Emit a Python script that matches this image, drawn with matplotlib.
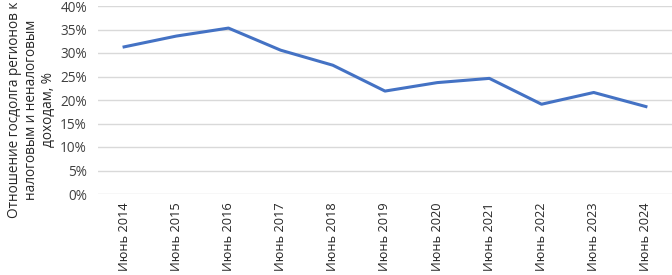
import matplotlib.pyplot as plt
from matplotlib.ticker import PercentFormatter

plt.rcParams['font.family'] = ['Open Sans', 'DejaVu Sans']

# data
years = ["Июнь 2014", "Июнь 2015", "Июнь 2016", "Июнь 2017", "Июнь 2018", "Июнь 2019",
         "Июнь 2020", "Июнь 2021", "Июнь 2022", "Июнь 2023", "Июнь 2024"]
debt_ratio = [31.3, 33.6, 35.3, 30.6, 27.4, 21.9, 23.7, 24.6, 19.1, 21.6, 18.6]
y_ticks = [0, 5, 10, 15, 20, 25, 30, 35, 40]

fig = plt.figure(figsize=(6.72, 2.75), dpi=100)
ax = fig.add_axes([98 / 672, 1 - 194 / 275, (672 - 98) / 672, (194 - 6) / 275])

x = list(range(len(years)))
ax.plot(x, debt_ratio, color="#4472C4", linewidth=2.2, solid_joinstyle="round", zorder=3)

ax.set_xlim(-0.5, len(years) - 0.5)
ax.set_ylim(0, 40)
ax.set_yticks(y_ticks)
ax.yaxis.set_major_formatter(PercentFormatter(decimals=0))
ax.set_xticks(x)
ax.set_xticklabels(years, rotation=90, fontsize=9.2, color="#262626")
ax.tick_params(axis="y", labelsize=9.8, colors="#404040", length=0, pad=8)
ax.tick_params(axis="x", length=0, pad=6)
ax.grid(axis="y", color="#D9D9D9", linewidth=1)
ax.set_axisbelow(True)
for pos in ["top", "right", "left", "bottom"]:
  ax.spines[pos].set_visible(False)

ax.set_ylabel("Отношение госдолга регионов к\nналоговым и неналоговым\nдоходам, %",
              fontsize=9.8, color="#262626", linespacing=1.15, multialignment="center")
ax.yaxis.set_label_coords(-0.074, 0.45)

fig.savefig("out.png", dpi=100)
